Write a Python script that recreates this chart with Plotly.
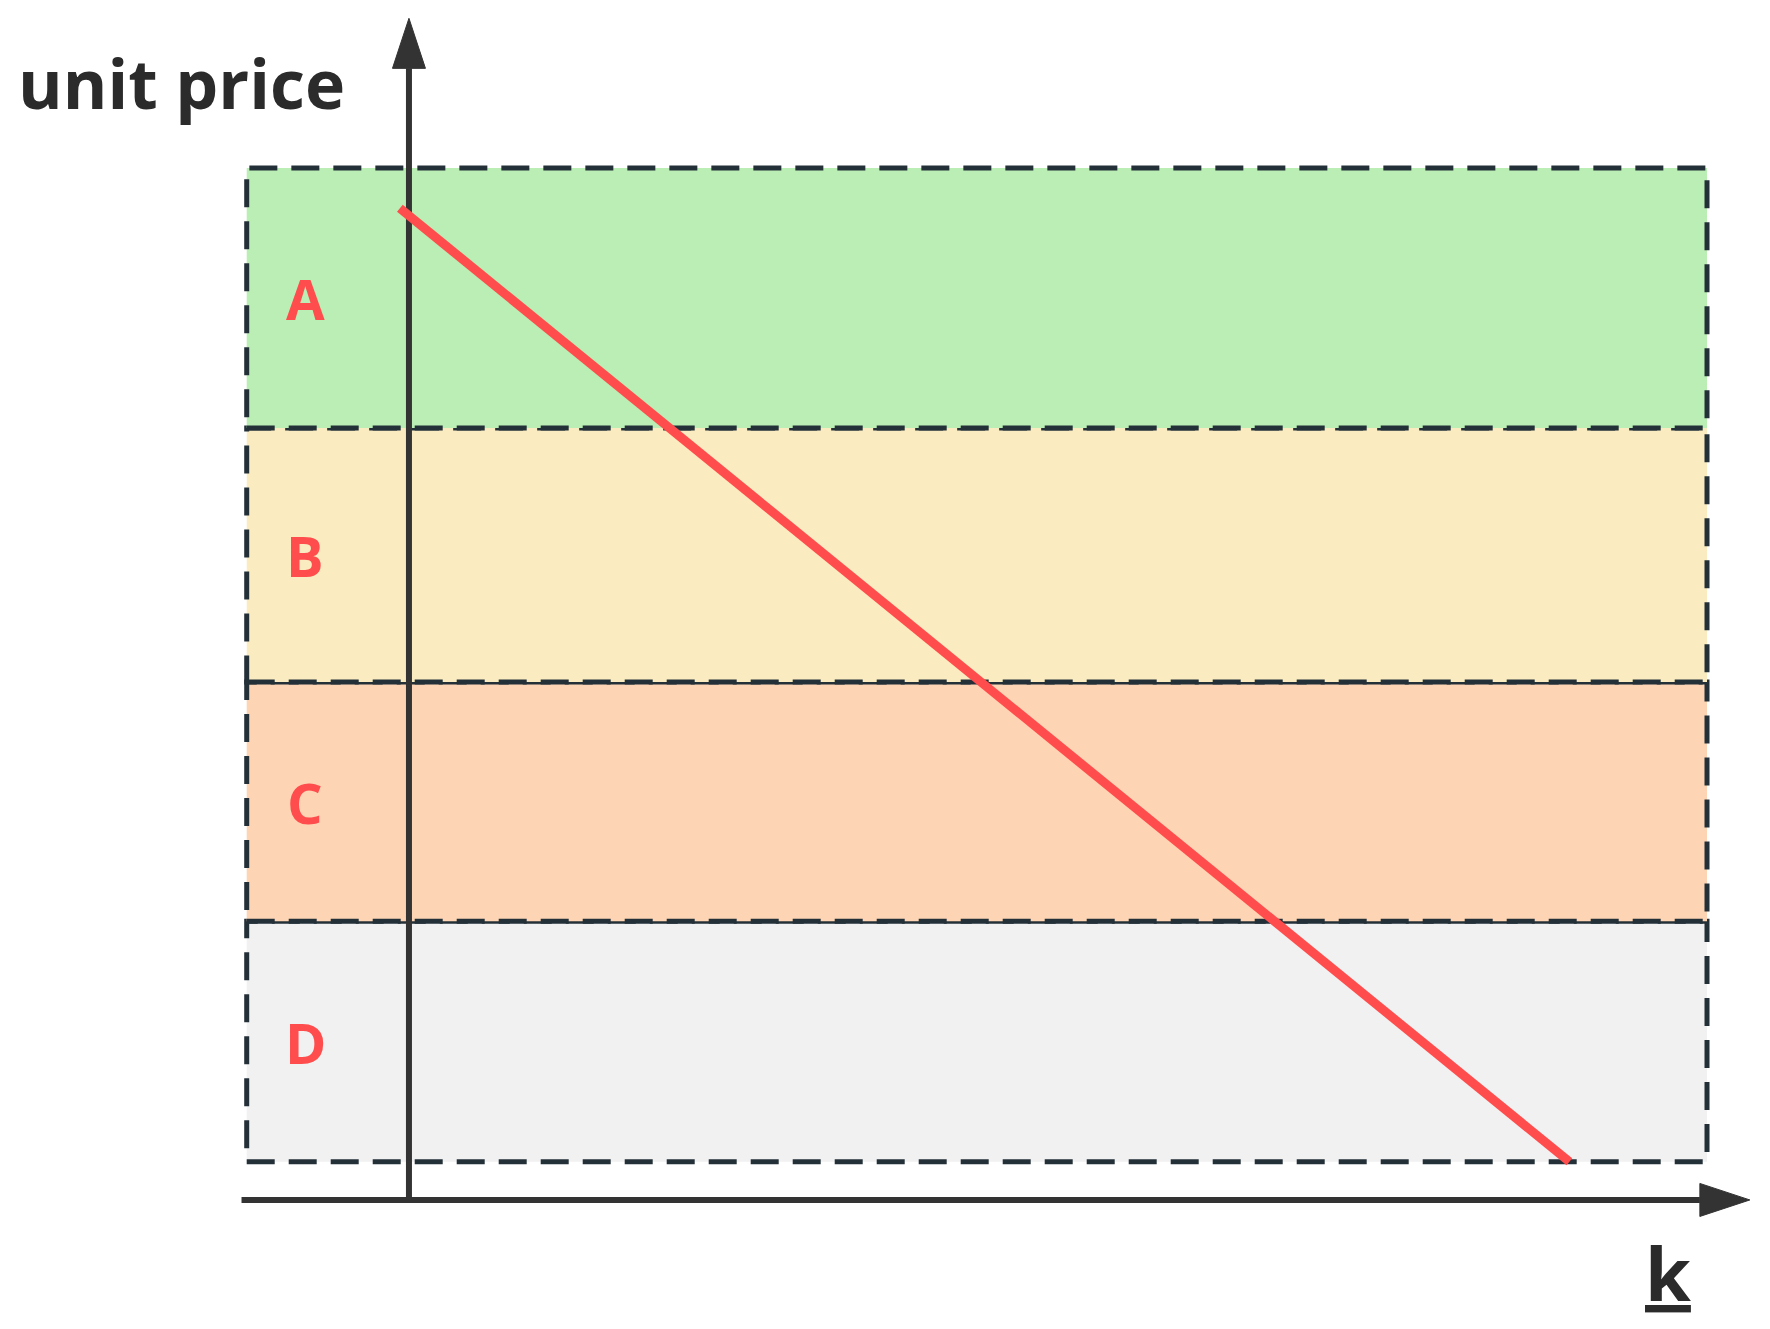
import plotly.graph_objects as go

# price bands (bottom edge .. top edge), bottom to top
band_edges = [3.7, 27.0, 50.2, 74.8, 100.0]
band_labels = ["D", "C", "B", "A"]
band_colors = ["#f1f1f1", "#fdd5b4", "#faecc0", "#bbeeb4"]
band_k = [-12.5, 100.0]

# the red price line
line_k = [-0.7, 89.4]
line_price = [96.1, 3.7]

# axes
k_axis = [-12.9, 103.3]
price_axis = [0.0, 114.5]

axis_color = "#333333"
red = "#ff4d4d"
border = "#243038"

fig = go.Figure()

# bands
for i, lab in enumerate(band_labels):
    lo, hi = band_edges[i], band_edges[i + 1]
    fig.add_shape(type="rect", xref="x", yref="y",
                  x0=band_k[0], x1=band_k[1], y0=lo, y1=hi,
                  fillcolor=band_colors[i], layer="below",
                  line=dict(color=border, width=5, dash="28px,14px"))
    fig.add_annotation(x=band_k[0] + 4.5, y=(lo + hi) / 2, text="<b>%s</b>" % lab,
                       showarrow=False, xanchor="center", yanchor="middle",
                       font=dict(family="Open Sans", size=56, color=red))

# arrow sizes (data units)
ax_len_x, ax_half_x = 3.85, 1.6
ax_len_y, ax_half_y = 4.85, 1.27

# k axis
fig.add_trace(go.Scatter(x=[k_axis[0], k_axis[1] - ax_len_x], y=[0, 0], mode="lines",
                         line=dict(color=axis_color, width=6), hoverinfo="skip"))
fig.add_trace(go.Scatter(x=[k_axis[1], k_axis[1] - ax_len_x, k_axis[1] - ax_len_x, k_axis[1]],
                         y=[0, ax_half_x, -ax_half_x, 0], mode="lines", fill="toself",
                         fillcolor=axis_color, line=dict(color=axis_color, width=1),
                         hoverinfo="skip"))
# price axis
fig.add_trace(go.Scatter(x=[0, 0], y=[price_axis[0], price_axis[1] - ax_len_y], mode="lines",
                         line=dict(color=axis_color, width=6), hoverinfo="skip"))
fig.add_trace(go.Scatter(x=[0, ax_half_y, -ax_half_y, 0],
                         y=[price_axis[1], price_axis[1] - ax_len_y, price_axis[1] - ax_len_y, price_axis[1]],
                         mode="lines", fill="toself", fillcolor=axis_color,
                         line=dict(color=axis_color, width=1), hoverinfo="skip"))

# red line
fig.add_trace(go.Scatter(x=line_k, y=line_price, mode="lines",
                         line=dict(color=red, width=9), hoverinfo="skip"))

# axis titles
fig.add_annotation(x=-30.3, y=108.3, text="<b>unit price</b>", showarrow=False,
                   xanchor="left", yanchor="middle",
                   font=dict(family="Open Sans", size=68, color="#2b2b2b"))
fig.add_annotation(x=97.0, y=-7.0, text="<u><b>k</b></u>", showarrow=False,
                   xanchor="center", yanchor="middle",
                   font=dict(family="Open Sans", size=74, color="#2b2b2b"))

# page body adds an 8px offset, so ranges are shifted to compensate
fig.update_layout(
    width=1770, height=1329,
    margin=dict(l=0, r=0, t=0, b=0),
    paper_bgcolor="white", plot_bgcolor="white",
    showlegend=False,
    xaxis=dict(range=[-30.89, 105.47], visible=False, fixedrange=True),
    yaxis=dict(range=[-13.28, 115.5], visible=False, fixedrange=True),
)

fig.write_html("out.html")
